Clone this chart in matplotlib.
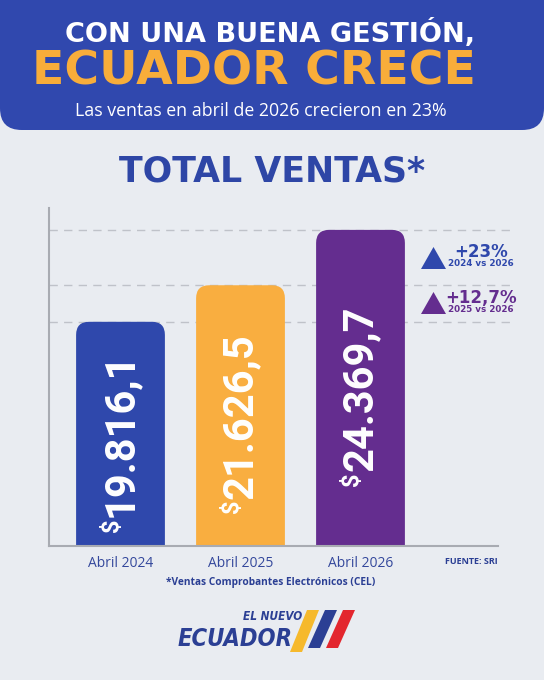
import matplotlib
matplotlib.use('Agg')
import matplotlib.pyplot as plt
from matplotlib.patches import FancyBboxPatch, Polygon

W, H = 544, 680


def fx(x):
    return x / W


def fy(y):
    return 1 - y / H


# Datos
meses = ['Abril 2024', 'Abril 2025', 'Abril 2026']
ventas = [19816.1, 21626.5, 24369.7]
etiquetas = ['19.816,1', '21.626,5', '24.369,7']
colores = ['#2F48AC', '#F9AE40', '#642D8F']
variaciones = ['+23%', '+12,7%']
comparaciones = ['2024 vs 2026', '2025 vs 2026']
colores_var = ['#2F48AC', '#642D8F']

AZUL = '#2E46A6'
fig = plt.figure(figsize=(W / 100, H / 100), dpi=100)
fig.patch.set_facecolor('#E9ECF1')

# Encabezado
header = FancyBboxPatch((0, fy(130)), 1, 0.4, boxstyle='round,pad=0,rounding_size=0.04',
                        mutation_aspect=W / H, transform=fig.transFigure,
                        fc='#3048AE', ec='none')
fig.add_artist(header)
fig.text(fx(270), fy(33), 'CON UNA BUENA GESTIÓN,', color='white', fontsize=19.5,
         fontweight='heavy', ha='center', va='center', family='DejaVu Sans')
fig.text(fx(254), fy(72), 'ECUADOR CRECE', color='#F8AD3A', fontsize=34,
         fontweight='heavy', ha='center', va='center', family='DejaVu Sans')
fig.text(fx(261), fy(111), 'Las ventas en abril de 2026 crecieron en 23%', color='white',
         fontsize=12.8, ha='center', va='center', family='Open Sans')

fig.text(fx(272), fy(171), 'TOTAL VENTAS*', color=AZUL, fontsize=25,
         fontweight='bold', ha='center', va='center', family='DejaVu Sans')

# Grafico
x_left, x_right, y_top, y_bot = 49, 498, 208, 546
ax = fig.add_axes([fx(x_left), fy(y_bot), (x_right - x_left) / W, (y_bot - y_top) / H])
ax.set_facecolor('none')
xmin = -(120.5 - x_left) / 120
xmax = xmin + (x_right - x_left) / 120
ymin, ymax = 8709, 25454
ax.set_xlim(xmin, xmax)
ax.set_ylim(ymin, ymax)

xu = (xmax - xmin) / (x_right - x_left)
yu = (ymax - ymin) / (y_bot - y_top)
asp = yu / xu

for v in ventas:
    ax.axhline(v, xmin=0, xmax=1.027, clip_on=False, color='#BFC2C9', lw=1,
               ls=(0, (6, 4.5)), zorder=0)

bars = ax.bar(range(len(ventas)), ventas, width=0.74, color=colores)
for b in bars:
    p = FancyBboxPatch((b.get_x(), 0), b.get_width(), b.get_height(),
                       boxstyle='round,pad=0,rounding_size=%f' % (13 * xu),
                       mutation_aspect=asp, fc=b.get_facecolor(), ec='none', zorder=2)
    b.set_visible(False)
    ax.add_patch(p)

for i, (v, lab) in enumerate(zip(ventas, etiquetas)):
    t = ax.text(i, (ymin + v) / 2, lab, rotation=90, color='white', fontsize=30,
                fontweight='bold', family='Roboto', ha='center', va='center', zorder=3)
    ax.annotate('$', xy=(0, 0), xycoords=t, xytext=(0, -1), textcoords='offset points',
                rotation=90, color='white', fontsize=17, fontweight='bold', family='Roboto',
                ha='left', va='top', zorder=3)

for s in ['top', 'right']:
    ax.spines[s].set_visible(False)
for s in ['left', 'bottom']:
    ax.spines[s].set_color('#A8ABB2')
    ax.spines[s].set_linewidth(1.5)
ax.set_yticks([])
ax.set_xticks(range(len(meses)), meses)
ax.tick_params(axis='x', length=0, pad=7, labelsize=10, labelcolor='#34489C')
for lbl in ax.get_xticklabels():
    lbl.set_family('Open Sans')

# Variaciones
tri_y = [258, 303]
txt_y = [252, 298]
sub_y = [264, 310]
for i in range(2):
    cy = tri_y[i]
    tri = Polygon([(fx(421), fy(cy + 11)), (fx(446), fy(cy + 11)), (fx(433.5), fy(cy - 11))],
                  closed=True, transform=fig.transFigure, fc=colores_var[i], ec='none')
    fig.add_artist(tri)
    fig.text(fx(481), fy(txt_y[i]), variaciones[i], color=colores_var[i], fontsize=12,
             fontweight='bold', ha='center', va='center', family='DejaVu Sans')
    fig.text(fx(481), fy(sub_y[i]), comparaciones[i], color=colores_var[i], fontsize=6.3,
             fontweight='bold', ha='center', va='center', family='DejaVu Sans')

fig.text(fx(471), fy(562), 'FUENTE: SRI', color='#2B3F94', fontsize=6.5,
         fontweight='bold', ha='center', va='center', family='Open Sans')
fig.text(fx(271), fy(582), '*Ventas Comprobantes Electrónicos (CEL)', color='#2B3F94',
         fontsize=7.3, fontweight='bold', ha='center', va='center', family='Open Sans')

# Logo
fig.text(fx(302), fy(617), 'EL NUEVO', color='#2B3F94', fontsize=8.5, fontweight='bold',
         style='italic', ha='right', va='center', family='DejaVu Sans', stretch='condensed')
fig.text(fx(293), fy(639), 'ECUADOR', color='#2B3F94', fontsize=17, fontweight='bold',
         style='italic', ha='right', va='center', family='DejaVu Sans', stretch='condensed')
franjas = ['#F6B92C', '#2B3F94', '#E3262E']
for k, c in enumerate(franjas):
    x0 = 290 + 18 * k
    y_b = 652 if k == 0 else 648
    pts = [(x0, y_b), (x0 + 12, y_b), (x0 + 12 + 17, 610), (x0 + 17, 610)]
    fig.add_artist(Polygon([(fx(a), fy(b)) for a, b in pts], closed=True,
                           transform=fig.transFigure, fc=c, ec='none'))

fig.savefig('out.png', dpi=100, facecolor=fig.get_facecolor())
